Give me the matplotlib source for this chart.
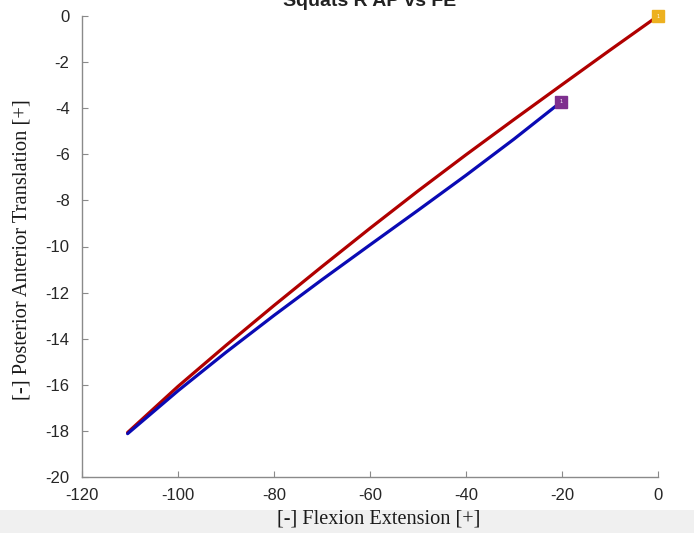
import matplotlib
matplotlib.use("Agg")
import matplotlib.pyplot as plt
from matplotlib.patches import Rectangle

# Data
red_x = [0, -10, -20, -30, -40, -50, -60, -70, -80, -90, -100, -110.5]
red_y = [0, -1.48, -2.98, -4.49, -6.02, -7.59, -9.21, -10.87, -12.56, -14.29, -16.07, -18.07]
blue_x = [-20.2, -30, -40, -50, -60, -70, -80, -90, -100, -110.5]
blue_y = [-3.73, -5.34, -6.91, -8.43, -9.93, -11.44, -12.99, -14.59, -16.26, -18.12]
start_red = (0, 0)
start_blue = (-20.2, -3.73)
xticks = [-120, -100, -80, -60, -40, -20, 0]
yticks = [0, -2, -4, -6, -8, -10, -12, -14, -16, -18, -20]
title = "Squats R AP vs FE"
xlabel = "[-] Flexion Extension [+]"
ylabel = "[-] Posterior Anterior Translation [+]"

W, H = 694, 533
fig = plt.figure(figsize=(W / 100, H / 100), dpi=100)
fig.patch.set_facecolor("white")
# grey strip at the bottom
fig.patches.append(Rectangle((0, 0), 1, 23 / H, transform=fig.transFigure,
                             facecolor="#f0f0f0", edgecolor="none", zorder=0))

ax = fig.add_axes([82 / W, 1 - 477 / H, (658 - 82) / W, (477 - 16) / H])
ax.set_facecolor("white")
ax.plot(red_x, red_y, color="#b00000", lw=2.3, solid_capstyle="round",
        solid_joinstyle="round", zorder=3)
ax.plot(blue_x, blue_y, color="#0a0ab4", lw=2.3, solid_capstyle="round",
        solid_joinstyle="round", zorder=3)
ax.plot(*start_red, marker="s", ms=9, color="#EDB120", mec="#EDB120", zorder=5, clip_on=False)
ax.plot(*start_blue, marker="s", ms=9, color="#7E2F8E", mec="#7E2F8E", zorder=5, clip_on=False)
for (px, py) in (start_red, start_blue):
    ax.text(px, py, "1", color="white", fontsize=3.5, ha="center", va="center", zorder=6)

ax.set_xlim(-120, 0)
ax.set_ylim(-20, 0)
ax.set_xticks(xticks)
ax.set_yticks(yticks)
ax.set_xticklabels([str(t) for t in xticks], family="Liberation Sans", fontsize=12, color="#262626")
ax.set_yticklabels([str(t) for t in yticks], family="Liberation Sans", fontsize=12, color="#262626")
for s in ("top", "right"):
    ax.spines[s].set_visible(False)
for s in ("left", "bottom"):
    ax.spines[s].set_color("#8a8a8a")
    ax.spines[s].set_linewidth(1.0)
ax.tick_params(direction="in", length=4, color="#8a8a8a")
ax.tick_params(axis="x", pad=8)
ax.tick_params(axis="y", pad=9)

fig.text(370 / W, 1 - 6 / H, title, ha="center", va="baseline",
         family="Liberation Sans", fontweight="bold", fontsize=14, color="#222222")
fig.text(379 / W, 1 - 519 / H, xlabel, ha="center", va="center",
         family="Liberation Serif", fontsize=14.6, color="#1a1a1a")
fig.text(22 / W, 1 - 250 / H, ylabel, ha="center", va="center", rotation=90,
         family="Liberation Serif", fontsize=14.8, color="#1a1a1a")

fig.savefig("out.png", dpi=100)
